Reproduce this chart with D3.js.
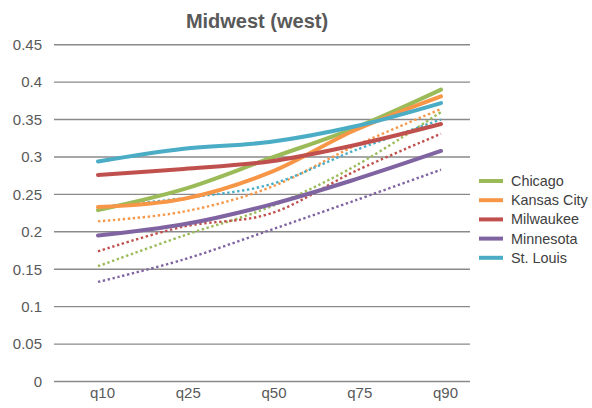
<!DOCTYPE html>
<html>
<head>
<meta charset="utf-8">
<script src="https://cdn.jsdelivr.net/npm/d3@7"></script>
<style>
  html, body { margin: 0; padding: 0; background: #fff; }
  svg { display: block; font-family: "Liberation Sans", Arial, sans-serif; }
</style>
</head>
<body>
<svg id="chart" width="592" height="408"></svg>
<script>
// Quantile categories and y ticks
const quantiles = ["q10", "q25", "q50", "q75", "q90"];
const yTicks = [0, 0.05, 0.1, 0.15, 0.2, 0.25, 0.3, 0.35, 0.4, 0.45];

// City names and colours
const cities = ["Chicago", "Kansas City", "Milwaukee", "Minnesota", "St. Louis"];
const colors = ["#9BBB59", "#F79646", "#C0504D", "#8064A2", "#4BACC6"];

// Solid series (one per city)
const chicago    = [0.229, 0.257, 0.298, 0.339, 0.390];
const kansasCity = [0.233, 0.244, 0.279, 0.336, 0.381];
const milwaukee  = [0.276, 0.284, 0.294, 0.316, 0.344];
const minnesota  = [0.195, 0.210, 0.236, 0.270, 0.308];
const stLouis    = [0.294, 0.311, 0.320, 0.341, 0.372];

// Dotted companion series (one per city)
const chicagoDot    = [0.154, 0.195, 0.233, 0.288, 0.360];
const kansasCityDot = [0.214, 0.227, 0.259, 0.315, 0.364];
const milwaukeeDot  = [0.174, 0.207, 0.224, 0.281, 0.331];
const minnesotaDot  = [0.133, 0.163, 0.202, 0.242, 0.283];
const stLouisDot    = [0.233, 0.245, 0.263, 0.309, 0.350];

const solidSeries = [chicago, kansasCity, milwaukee, minnesota, stLouis];
const dottedSeries = [chicagoDot, kansasCityDot, milwaukeeDot, minnesotaDot, stLouisDot];

const svg = d3.select("#chart");
const plot = { left: 54, right: 470, top: 44.7, bottom: 381.5 };

const x = d3.scalePoint().domain(quantiles).range([98, 441]);
const y = d3.scaleLinear().domain([0, 0.45]).range([plot.bottom, plot.top]);

// Title
svg.append("text")
  .attr("x", 257).attr("y", 28)
  .attr("text-anchor", "middle")
  .attr("font-size", 20).attr("font-weight", "bold")
  .attr("fill", "#595959")
  .text("Midwest (west)");

// Horizontal gridlines
svg.append("g").selectAll("line").data(yTicks).join("line")
  .attr("x1", plot.left).attr("x2", plot.right)
  .attr("y1", d => y(d)).attr("y2", d => y(d))
  .attr("stroke", "#8a8a8a").attr("stroke-width", 1.4);

// Y axis labels
const yAxis = d3.axisLeft(y).tickValues(yTicks).tickSize(0).tickPadding(0)
  .tickFormat(d => d === 0 ? "0" : String(+d.toFixed(2)));
svg.append("g").attr("transform", "translate(42,0)").call(yAxis)
  .call(g => g.select(".domain").remove())
  .call(g => g.selectAll("text").attr("font-size", 15).attr("fill", "#595959")
    .attr("font-family", "Liberation Sans, Arial, sans-serif"));

// X axis labels
const xAxis = d3.axisBottom(x).tickSize(0).tickPadding(0);
svg.append("g").attr("transform", `translate(4,${plot.bottom + 6})`).call(xAxis)
  .call(g => g.select(".domain").remove())
  .call(g => g.selectAll("text").attr("font-size", 15).attr("fill", "#595959")
    .attr("font-family", "Liberation Sans, Arial, sans-serif"));

const line = d3.line()
  .x((d, i) => x(quantiles[i]))
  .y(d => y(d))
  .curve(d3.curveCatmullRom.alpha(0.5));

// Dotted lines underneath the solid ones
svg.append("g").selectAll("path").data(dottedSeries).join("path")
  .attr("d", line)
  .attr("fill", "none")
  .attr("stroke", (d, i) => colors[i])
  .attr("stroke-width", 2.4)
  .attr("stroke-dasharray", "2.4,2.6");

svg.append("g").selectAll("path").data(solidSeries).join("path")
  .attr("d", line)
  .attr("fill", "none")
  .attr("stroke", (d, i) => colors[i])
  .attr("stroke-width", 4)
  .attr("stroke-linecap", "round")
  .attr("stroke-linejoin", "round");

// Legend
const legend = svg.append("g");
const rows = legend.selectAll("g").data(cities).join("g")
  .attr("transform", (d, i) => `translate(479,${181 + i * 19.2})`);
rows.append("line")
  .attr("x1", 0).attr("x2", 24).attr("y1", 0).attr("y2", 0)
  .attr("stroke", (d, i) => colors[i]).attr("stroke-width", 4);
rows.append("text")
  .attr("x", 32).attr("y", 0).attr("dy", "0.35em")
  .attr("font-size", 14.4).attr("fill", "#404040")
  .text(d => d);
</script>
</body>
</html>
